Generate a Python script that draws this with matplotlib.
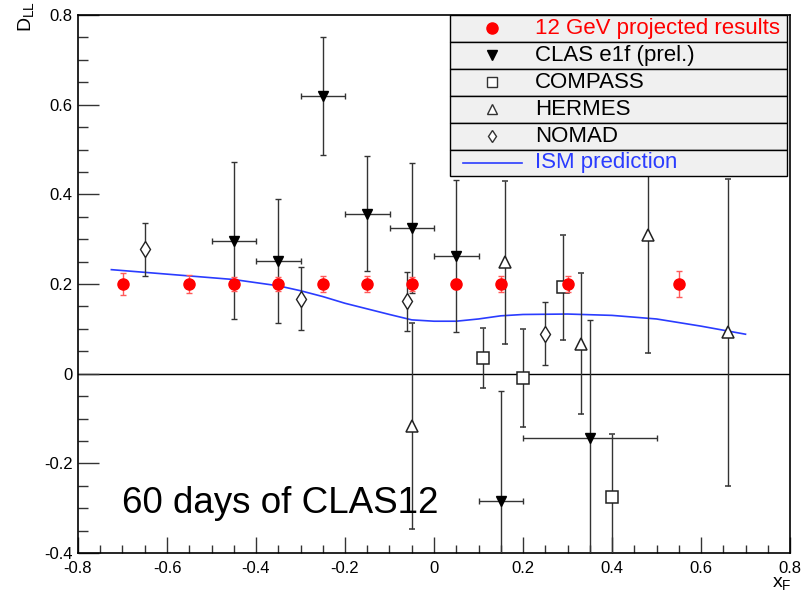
import numpy as np
import matplotlib
matplotlib.use("Agg")
import matplotlib.pyplot as plt
from matplotlib.patches import Rectangle
from matplotlib.ticker import MultipleLocator

plt.rcParams["font.family"] = ["Liberation Sans", "DejaVu Sans"]

# 12 GeV projected results
proj_x = [-0.70, -0.55, -0.45, -0.35, -0.25, -0.15, -0.05, 0.05, 0.15, 0.30, 0.55]
proj_y = [0.20, 0.20, 0.20, 0.20, 0.20, 0.20, 0.20, 0.20, 0.20, 0.20, 0.20]
proj_err = [0.025, 0.019, 0.015, 0.015, 0.017, 0.017, 0.015, 0.012, 0.017, 0.017, 0.029]

# CLAS e1f (prel.)
clas_x = [-0.45, -0.35, -0.25, -0.15, -0.05, 0.05, 0.15, 0.35]
clas_y = [0.297, 0.252, 0.620, 0.357, 0.326, 0.263, -0.283, -0.143]
clas_yerr = [0.175, 0.138, 0.132, 0.128, 0.145, 0.170, 0.245, 0.263]
clas_xerr = [0.05, 0.05, 0.05, 0.05, 0.05, 0.05, 0.05, 0.15]

# COMPASS
compass_x = [0.11, 0.20, 0.29, 0.40]
compass_y = [0.034, -0.010, 0.193, -0.274]
compass_err = [0.067, 0.110, 0.117, 0.140]

# HERMES
hermes_x = [-0.05, 0.16, 0.33, 0.48, 0.66]
hermes_y = [-0.116, 0.248, 0.067, 0.310, 0.092]
hermes_err = [0.230, 0.182, 0.158, 0.263, 0.342]

# NOMAD
nomad_x = [-0.65, -0.30, -0.06, 0.25]
nomad_y = [0.277, 0.167, 0.161, 0.089]
nomad_err = [0.060, 0.070, 0.065, 0.070]

# ISM prediction
ism_x = [-0.725, -0.60, -0.45, -0.35, -0.30, -0.25, -0.20, -0.10, -0.05, 0.00,
         0.05, 0.10, 0.15, 0.20, 0.30, 0.40, 0.50, 0.60, 0.70]
ism_y = [0.232, 0.222, 0.210, 0.196, 0.185, 0.172, 0.157, 0.132, 0.120, 0.117,
         0.117, 0.122, 0.129, 0.132, 0.133, 0.130, 0.122, 0.106, 0.088]

legend_labels = ["12 GeV projected results", "CLAS e1f (prel.)", "COMPASS",
                 "HERMES", "NOMAD", "ISM prediction"]

RED = "#ff0000"
BLUE = "#2a3cff"
EC = "#333333"

fig = plt.figure(figsize=(8.09, 6.0), dpi=100)
ax = fig.add_axes([78 / 809, 47 / 600, 712 / 809, 538 / 600])

ax.axhline(0, color="black", lw=1.0, zorder=1)
ax.plot(ism_x, ism_y, color=BLUE, lw=1.2, zorder=2)

eb = dict(capsize=2.5, elinewidth=1.0, capthick=1.0, ecolor=EC, zorder=3)
ax.errorbar(clas_x, clas_y, yerr=clas_yerr, xerr=clas_xerr, fmt="v", ms=7.5,
            color="black", **eb)
ax.errorbar(compass_x, compass_y, yerr=compass_err, fmt="s", ms=8,
            mfc="white", mec="#222222", mew=1.1, **eb)
ax.errorbar(hermes_x, hermes_y, yerr=hermes_err, fmt="^", ms=9,
            mfc="white", mec="#222222", mew=1.1, **eb)
ax.errorbar(nomad_x, nomad_y, yerr=nomad_err, fmt="d", ms=8,
            mfc="white", mec="#222222", mew=1.0, **eb)
ax.errorbar(proj_x, proj_y, yerr=proj_err, fmt="o", ms=8, color=RED,
            ecolor="#ff5a5a", capsize=2.5, elinewidth=1.0, capthick=1.0, zorder=4)

ax.set_xlim(-0.8, 0.8)
ax.set_ylim(-0.4, 0.8)
ax.xaxis.set_major_locator(MultipleLocator(0.2))
ax.xaxis.set_minor_locator(MultipleLocator(0.05))
ax.yaxis.set_major_locator(MultipleLocator(0.2))
ax.yaxis.set_minor_locator(MultipleLocator(0.05))
ax.xaxis.set_major_formatter(lambda v, p: f"{v:g}" if abs(v) > 1e-9 else "0")
ax.yaxis.set_major_formatter(lambda v, p: f"{v:g}" if abs(v) > 1e-9 else "0")
ax.tick_params(axis="both", which="both", direction="in", top=False, right=False,
               labelsize=12, color="#333333", width=1.0)
ax.tick_params(axis="y", which="major", length=15, pad=4)
ax.tick_params(axis="y", which="minor", length=7.5)
ax.tick_params(axis="x", which="major", length=11.5, pad=6)
ax.tick_params(axis="x", which="minor", length=5.8)
for s in ax.spines.values():
    s.set_linewidth(1.2)

ax.text(-0.70, -0.31, "60 days of CLAS12", fontsize=26.5, va="baseline", ha="left")

fig.text(27 / 809, 1 - 17 / 600, "D$_{\\mathregular{LL}}$", rotation=90,
         fontsize=14, ha="center", va="center")
fig.text(792 / 809, 1 - 584 / 600, "x$_{\\mathregular{F}}$", fontsize=14,
         ha="right", va="center")

# legend box
lx0, lx1 = (450 - 78) / 712, (787 - 78) / 712
row_h = 0.05
mx = (492 - 78) / 712
tx = (535 - 78) / 712
for i, lab in enumerate(legend_labels):
    y0 = 1 - (i + 1) * row_h
    ax.add_patch(Rectangle((lx0, y0), lx1 - lx0, row_h, transform=ax.transAxes,
                           facecolor="#f0f0f0", edgecolor="black", lw=1.0,
                           zorder=10, clip_on=False))
    yc = y0 + row_h / 2
    color = RED if i == 0 else (BLUE if i == 5 else "black")
    ax.text(tx, yc, lab, transform=ax.transAxes, fontsize=16, color=color,
            va="center", ha="left", zorder=12)
markers = [("o", RED, RED, 8), ("v", "black", "black", 7), ("s", "white", "#333333", 6.5),
           ("^", "white", "#333333", 7), ("d", "white", "#333333", 6.5)]
for i, (m, fc, ec, ms) in enumerate(markers):
    yc = 1 - (i + 0.5) * row_h
    ax.plot([mx], [yc], marker=m, mfc=fc, mec=ec, ms=ms, mew=1.0,
            transform=ax.transAxes, zorder=12, clip_on=False, ls="none")
yc = 1 - 5.5 * row_h
ax.plot([(463 - 78) / 712, (522 - 78) / 712], [yc, yc], color=BLUE, lw=1.2,
        transform=ax.transAxes, zorder=12, clip_on=False)

fig.savefig("out.png", dpi=100)
